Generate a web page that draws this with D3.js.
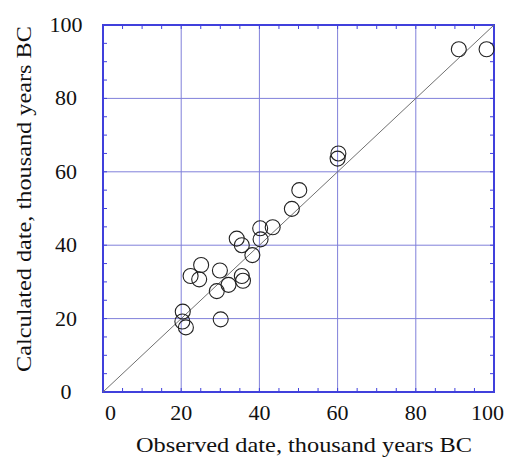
<!DOCTYPE html>
<html><head><meta charset="utf-8">
<script src="https://cdn.jsdelivr.net/npm/d3@7/dist/d3.min.js"></script>
<style>body{margin:0;background:#fff}svg{display:block}text{font-family:"Liberation Serif","DejaVu Serif","Times New Roman",serif;fill:#111}</style>
</head><body><svg id="c" width="510" height="459"></svg>
<script>
const observed   = [91.0, 98.1, 60.2, 60.0, 50.2, 48.3, 40.2, 43.4, 40.3, 34.2, 35.5, 38.2, 25.1, 22.4, 24.6, 29.9, 35.5, 35.8, 32.1, 29.1, 20.4, 20.3, 21.2, 30.1];
const calculated = [93.4, 93.4, 65.0, 63.6, 55.0, 49.9, 44.6, 44.9, 41.6, 41.8, 40.0, 37.3, 34.6, 31.6, 30.7, 33.1, 31.6, 30.3, 29.2, 27.5, 21.9, 19.2, 17.6, 19.8];
const majorTicks = [0, 20, 40, 60, 80, 100];
const minorTicks = d3.range(0, 101, 5);
const xTitle = "Observed date, thousand years BC";
const yTitle = "Calculated date, thousand years BC";

const L = 103, R = 494, T = 25, B = 392;
const svg = d3.select("#c");
const x = d3.scaleLinear().domain([0, 100]).range([L, R]);
const y = d3.scaleLinear().domain([0, 100]).range([B, T]);
const gridCol = "#8080da", frameCol = "#4040dc";

// grid
svg.append("g").selectAll("line").data(majorTicks.slice(1, -1)).join("line")
  .attr("x1", d => x(d)).attr("x2", d => x(d)).attr("y1", T).attr("y2", B)
  .attr("stroke", gridCol).attr("stroke-width", 1);
svg.append("g").selectAll("line").data(majorTicks.slice(1, -1)).join("line")
  .attr("y1", d => y(d)).attr("y2", d => y(d)).attr("x1", L).attr("x2", R)
  .attr("stroke", gridCol).attr("stroke-width", 1);

// minor ticks on all sides
const tl = 4;
const minors = minorTicks.filter(v => v > 0 && v < 100);
const tg = svg.append("g").attr("stroke", frameCol).attr("stroke-width", 1);
tg.selectAll(null).data(minors).join("line").attr("x1", d => x(d)).attr("x2", d => x(d)).attr("y1", B).attr("y2", B - tl);
tg.selectAll(null).data(minors).join("line").attr("x1", d => x(d)).attr("x2", d => x(d)).attr("y1", T).attr("y2", T + tl);
tg.selectAll(null).data(minors).join("line").attr("y1", d => y(d)).attr("y2", d => y(d)).attr("x1", L).attr("x2", L + tl);
tg.selectAll(null).data(minors).join("line").attr("y1", d => y(d)).attr("y2", d => y(d)).attr("x1", R).attr("x2", R - tl);

// frame
svg.append("rect").attr("x", L).attr("y", T).attr("width", R - L).attr("height", B - T)
  .attr("fill", "none").attr("stroke", frameCol).attr("stroke-width", 2);

// diagonal
svg.append("line").attr("x1", x(0)).attr("y1", y(0)).attr("x2", x(100)).attr("y2", y(100))
  .attr("stroke", "#707070").attr("stroke-width", 1);

// points
svg.append("g").selectAll("circle").data(observed.map((v, i) => [v, calculated[i]])).join("circle")
  .attr("cx", d => x(d[0])).attr("cy", d => y(d[1])).attr("r", 7.5)
  .attr("fill", "none").attr("stroke", "#222").attr("stroke-width", 1.1);

// tick labels
const xl = svg.append("g").selectAll("text").data(majorTicks).join("text")
  .attr("x", d => x(d)).attr("y", 420).attr("text-anchor", "middle")
  .attr("font-size", 22).text(d => d);
xl.each(function(d) {
  const w = this.getComputedTextLength();
  let cx = x(d);
  cx = Math.max(cx, 105 + w / 2);
  cx = Math.min(cx, 504 - w / 2);
  d3.select(this).attr("x", cx);
});
svg.append("g").selectAll("text").data(majorTicks).join("text")
  .attr("x", 66).attr("y", d => y(d) + 7).attr("text-anchor", "middle")
  .attr("font-size", 22).text(d => d);

// titles
svg.append("text").attr("x", 304).attr("y", 452).attr("text-anchor", "middle")
  .attr("font-size", 21).attr("textLength", 336).attr("lengthAdjust", "spacingAndGlyphs").text(xTitle);
svg.append("text").attr("transform", "translate(31,199) rotate(-90)").attr("text-anchor", "middle")
  .attr("font-size", 21).attr("textLength", 346).attr("lengthAdjust", "spacingAndGlyphs").text(yTitle);
</script></body></html>
